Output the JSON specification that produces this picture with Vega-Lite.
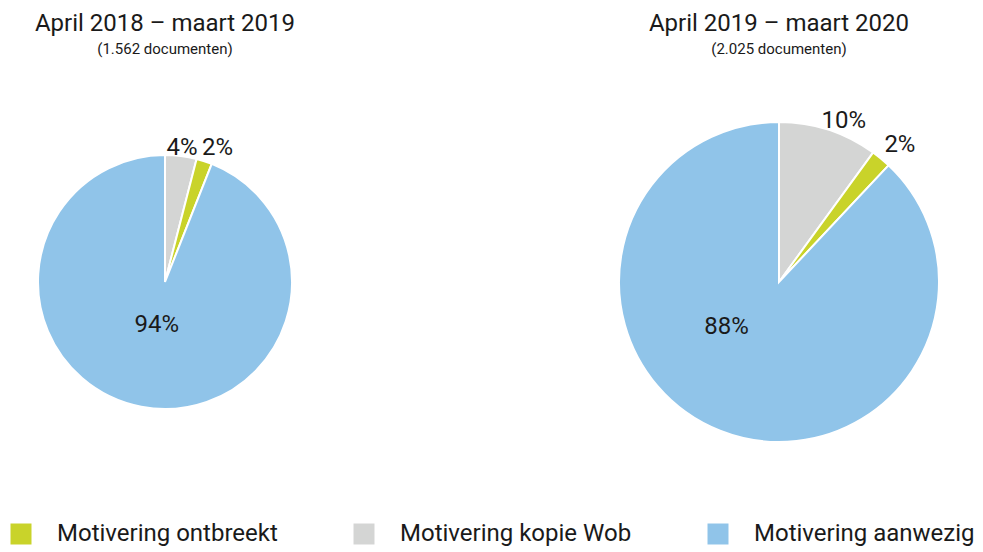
{
  "$schema": "https://vega.github.io/schema/vega-lite/v6.json",
  "padding": {"top": 12, "left": 0, "right": 0, "bottom": 0},
  "background": "white",
  "config": {
    "font": "Roboto",
    "view": {"stroke": null},
    "concat": {"spacing": 284},
    "text": {"fontSize": 24, "color": "#1a1a1a"},
    "title": {"font": "Roboto", "fontSize": 24, "fontWeight": "normal", "color": "#1a1a1a", "subtitleFont": "Roboto", "subtitleFontSize": 15, "subtitleColor": "#1a1a1a", "anchor": "middle", "subtitlePadding": 6, "offset": 0}
  },
  "data": {
    "values": [
      {"periode": "2018-2019", "categorie": "Motivering kopie Wob", "pct": 0.04, "volgorde": 1},
      {"periode": "2018-2019", "categorie": "Motivering ontbreekt", "pct": 0.02, "volgorde": 2},
      {"periode": "2018-2019", "categorie": "Motivering aanwezig", "pct": 0.94, "volgorde": 3},
      {"periode": "2019-2020", "categorie": "Motivering kopie Wob", "pct": 0.10, "volgorde": 1},
      {"periode": "2019-2020", "categorie": "Motivering ontbreekt", "pct": 0.02, "volgorde": 2},
      {"periode": "2019-2020", "categorie": "Motivering aanwezig", "pct": 0.88, "volgorde": 3}
    ]
  },
  "hconcat": [
    {
      "width": 330,
      "height": 442,
      "title": {"text": "April 2018 – maart 2019", "subtitle": "(1.562 documenten)"},
      "transform": [{"filter": "datum.periode === '2018-2019'"}],
      "encoding": {
        "theta": {"field": "pct", "type": "quantitative", "stack": true},
        "order": {"field": "volgorde", "type": "quantitative"}
      },
      "layer": [
        {
          "mark": {"type": "arc", "outerRadius": 127, "stroke": "white", "strokeWidth": 2},
          "encoding": {
            "color": {
              "field": "categorie", "type": "nominal",
              "scale": {"domain": ["Motivering ontbreekt", "Motivering kopie Wob", "Motivering aanwezig"], "range": ["#C9D32A", "#D4D5D4", "#90C4E9"]},
              "legend": {
                "orient": "none", "direction": "horizontal", "legendX": 9, "legendY": 461,
                "title": null, "symbolType": "square", "symbolSize": 441, "symbolStrokeWidth": 0, "symbolOpacity": 1,
                "labelFont": "Roboto", "labelFontSize": 24, "labelColor": "#1a1a1a", "labelOffset": 24, "labelLimit": 400,
                "columnPadding": 74, "columns": 3
              }
            }
          }
        },
        {
          "mark": {"type": "text", "radius": 44},
          "encoding": {"text": {"condition": {"test": "datum.categorie === 'Motivering aanwezig'", "field": "pct", "type": "quantitative", "format": ".0%"}, "value": ""}}
        },
        {
          "mark": {"type": "text", "radius": 135},
          "encoding": {"text": {"condition": {"test": "datum.categorie === 'Motivering kopie Wob'", "field": "pct", "type": "quantitative", "format": ".0%"}, "value": ""}}
        },
        {
          "mark": {"type": "text", "radius": 138, "dx": 10, "dy": -3},
          "encoding": {"text": {"condition": {"test": "datum.categorie === 'Motivering ontbreekt'", "field": "pct", "type": "quantitative", "format": ".0%"}, "value": ""}}
        }
      ]
    },
    {
      "width": 330,
      "height": 442,
      "title": {"text": "April 2019 – maart 2020", "subtitle": "(2.025 documenten)"},
      "transform": [{"filter": "datum.periode === '2019-2020'"}],
      "encoding": {
        "theta": {"field": "pct", "type": "quantitative", "stack": true},
        "order": {"field": "volgorde", "type": "quantitative"}
      },
      "layer": [
        {
          "mark": {"type": "arc", "outerRadius": 160, "stroke": "white", "strokeWidth": 2},
          "encoding": {
            "color": {"field": "categorie", "type": "nominal"}
          }
        },
        {
          "mark": {"type": "text", "radius": 69, "dx": -27, "dy": -19},
          "encoding": {"text": {"condition": {"test": "datum.categorie === 'Motivering aanwezig'", "field": "pct", "type": "quantitative", "format": ".0%"}, "value": ""}}
        },
        {
          "mark": {"type": "text", "radius": 174, "dx": 11, "dy": 4},
          "encoding": {"text": {"condition": {"test": "datum.categorie === 'Motivering kopie Wob'", "field": "pct", "type": "quantitative", "format": ".0%"}, "value": ""}}
        },
        {
          "mark": {"type": "text", "radius": 174, "dx": 10, "dy": -3},
          "encoding": {"text": {"condition": {"test": "datum.categorie === 'Motivering ontbreekt'", "field": "pct", "type": "quantitative", "format": ".0%"}, "value": ""}}
        }
      ]
    }
  ]
}
